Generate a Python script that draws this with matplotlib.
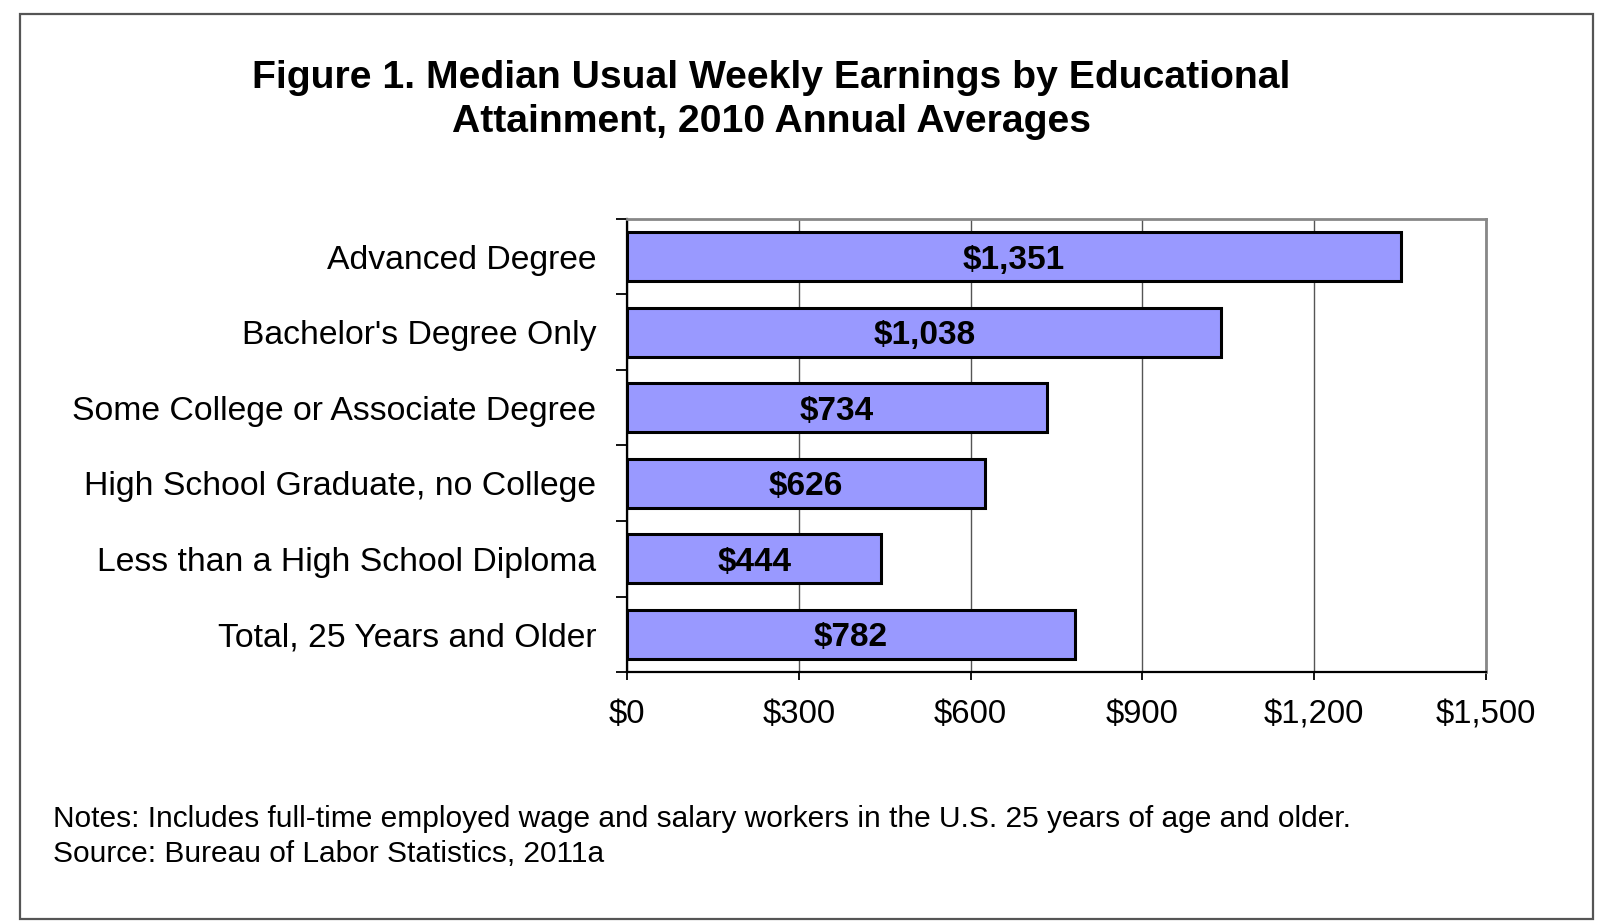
import matplotlib
matplotlib.use("Agg")
import matplotlib.pyplot as plt
from matplotlib.patches import Rectangle
from matplotlib.ticker import FuncFormatter, FixedLocator
import numpy as np

categories = ["Advanced Degree", "Bachelor's Degree Only", "Some College or Associate Degree",
              "High School Graduate, no College", "Less than a High School Diploma",
              "Total, 25 Years and Older"]
values = [1351, 1038, 734, 626, 444, 782]
xticks = [0, 300, 600, 900, 1200, 1500]
title_lines = ["Figure 1. Median Usual Weekly Earnings by Educational",
               "Attainment, 2010 Annual Averages"]
notes = ["Notes: Includes full-time employed wage and salary workers in the U.S. 25 years of age and older.",
         "Source: Bureau of Labor Statistics, 2011a"]

plt.rcParams['font.family'] = ['Liberation Sans', 'DejaVu Sans']

W, H = 1600, 921
fig = plt.figure(figsize=(W / 100, H / 100), dpi=100)
fig.patch.set_facecolor("white")

def fx(px):
    return px / W

def fy(py):
    return 1 - py / H

ax = fig.add_axes([fx(627), fy(672), fx(1486) - fx(627), fy(219) - fy(672)])

y = np.arange(len(categories))
ax.barh(y, values, height=0.65, color="#9999FF", edgecolor="black", linewidth=2.2, zorder=3)
for yi, v in zip(y, values):
    ax.text(v / 2, yi, "${:,}".format(v), ha="center", va="center_baseline", fontsize=24,
            fontweight="bold", color="black", zorder=4)

ax.set_xlim(0, 1500)
ax.set_ylim(len(categories) - 0.5, -0.5)
ax.xaxis.set_major_locator(FixedLocator(xticks))
ax.xaxis.set_major_formatter(FuncFormatter(lambda v, p: "${:,.0f}".format(v)))
ax.grid(axis="x", color="#555555", linewidth=1.0, zorder=0)

ax.set_yticks(y)
ax.set_yticklabels(categories, fontsize=24.3)
ax.set_yticks(np.arange(-0.5, len(categories), 1.0), minor=True)
ax.tick_params(axis="y", which="major", length=0, pad=22)
ax.tick_params(axis="y", which="minor", length=8, width=1.3, color="black", direction="out")
ax.tick_params(axis="x", which="major", length=6, width=1.3, labelsize=23.7, pad=13.5, direction="out")

for s in ["top", "right"]:
    ax.spines[s].set_color("#888888")
    ax.spines[s].set_linewidth(2.0)
for s in ["left", "bottom"]:
    ax.spines[s].set_color("black")
    ax.spines[s].set_linewidth(1.6)

fig.text(fx(771), fy(78), title_lines[0], ha="center", va="center", fontsize=28.2, fontweight="bold")
fig.text(fx(771), fy(122), title_lines[1], ha="center", va="center", fontsize=28.2, fontweight="bold")

fig.text(fx(53), fy(827), notes[0], ha="left", va="baseline", fontsize=21.5)
fig.text(fx(53), fy(862), notes[1], ha="left", va="baseline", fontsize=21.5)

border = Rectangle((fx(20), fy(919)), fx(1593) - fx(20), fy(14) - fy(919), transform=fig.transFigure,
                   fill=False, edgecolor="#555555", linewidth=1.6)
fig.patches.append(border)

fig.savefig("out.png", dpi=100, facecolor="white")
